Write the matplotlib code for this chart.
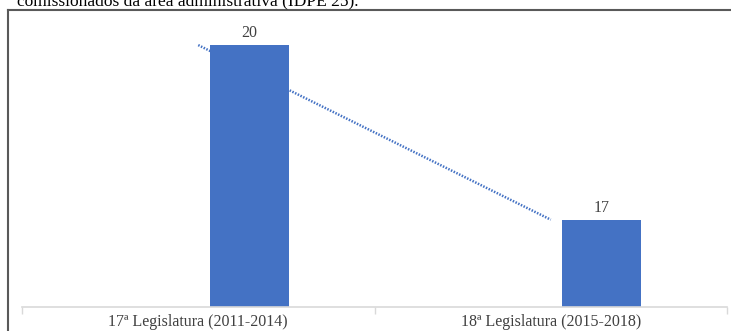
import matplotlib.pyplot as plt
from matplotlib.lines import Line2D
import numpy as np

# cargos comissionados por legislatura
categorias = ['17ª Legislatura (2011-2014)', '18ª Legislatura (2015-2018)']
valores = [20, 17]

W, H = 731, 331
azul = '#4472C4'
plt.rcParams['font.family'] = ['Liberation Serif', 'DejaVu Serif']

fig = plt.figure(figsize=(W / 100, H / 100), dpi=100)

def px(x, y):
    # pixel (from top-left) to figure fraction
    return x / W, 1 - y / H

# trecho do texto acima do grafico
fig.text(*px(17, 5), 'comissionados da área administrativa (IDPE 25).',
         fontsize=12.5, va='baseline', ha='left', color='black')

# moldura
x0, y0 = px(8, 10)
x1, y1 = px(730, 331)
fig.add_artist(Line2D([x0, x0], [y0, y1], color='#595959', lw=1.5))
fig.add_artist(Line2D([x0, x1], [y0, y0], color='#595959', lw=1.5))

l, t = px(22, 16)
r, b = px(727, 307)
ax = fig.add_axes([l, b, r - l, t - b])

x = np.arange(len(categorias))
desloc = 0.145
ax.bar(x + desloc, valores, width=0.224, color=azul, zorder=2)
for xi, v in zip(x, valores):
    ax.text(xi + desloc, v + 0.07, str(v), ha='center', va='bottom',
            fontsize=11.5, color='#404040')

# linha de tendencia linear
coef = np.polyfit(x, valores, 1)
ax.plot(x, np.polyval(coef, x), color=azul, lw=1.8, ls=(0, (0.6, 0.6)), zorder=3)

ax.set_xlim(-0.5, len(categorias) - 0.5)
ax.set_ylim(15.5, 20.5)
ax.set_yticks([])
ax.set_xticks(x)
ax.set_xticklabels(categorias, fontsize=11.5, color='#404040')
ax.set_xticks(np.arange(-0.5, len(categorias)), minor=True)
ax.tick_params(axis='x', which='major', length=0, pad=5)
ax.tick_params(axis='x', which='minor', length=5, color='#d9d9d9', width=1)
for s in ['top', 'right', 'left']:
    ax.spines[s].set_visible(False)
ax.spines['bottom'].set_color('#d9d9d9')
ax.spines['bottom'].set_linewidth(1.2)

fig.savefig('out.png', dpi=100)
